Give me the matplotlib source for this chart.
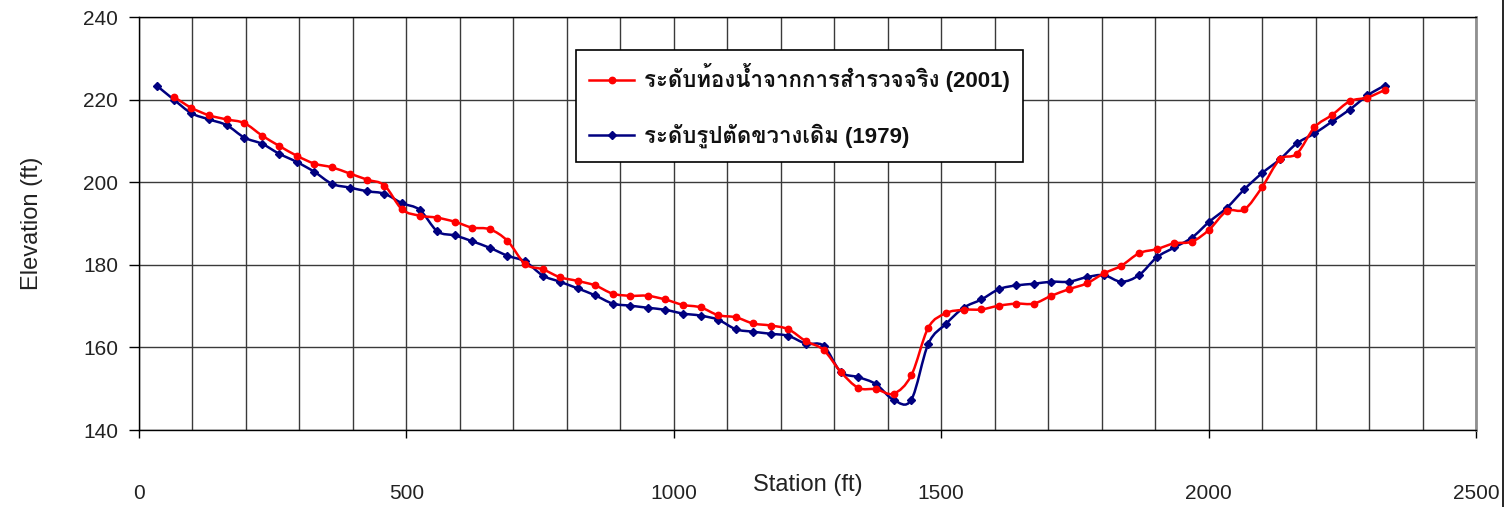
import numpy as np
import matplotlib
matplotlib.use("Agg")
import matplotlib.pyplot as plt
from matplotlib import font_manager as fm
from matplotlib.ft2font import FT2Font
from matplotlib.path import Path
from matplotlib.patches import PathPatch
from matplotlib.lines import Line2D

# ---------------- data ----------------
station_1979 = [33, 66, 98, 131, 164, 197, 230, 262, 295, 328, 361, 394, 427, 459,
                492, 525, 558, 591, 623, 656, 689, 722, 755, 787, 820, 853, 886, 919,
                951, 984, 1017, 1050, 1083, 1116, 1148, 1181, 1214, 1247, 1280, 1312,
                1345, 1378, 1411, 1444, 1476, 1509, 1542, 1575, 1608, 1640, 1673, 1706,
                1739, 1772, 1804, 1837, 1870, 1903, 1936, 1969, 2001, 2034, 2067, 2100,
                2133, 2165, 2198, 2231, 2264, 2297, 2329]
elev_1979 = [223.4, 219.9, 216.7, 215.2, 213.8, 210.8, 209.3, 206.9, 204.9, 202.5,
             199.6, 198.7, 197.8, 197.2, 194.9, 193.3, 188.1, 187.1, 185.7, 184.1,
             182.2, 180.8, 177.4, 175.9, 174.3, 172.6, 170.6, 170.1, 169.6, 169.1,
             168.2, 167.7, 166.7, 164.4, 163.8, 163.3, 162.8, 160.9, 160.4, 154.1,
             152.8, 151.1, 147.3, 147.3, 160.9, 165.7, 169.6, 171.6, 174.1, 175.0,
             175.4, 175.9, 175.9, 177.0, 177.5, 175.9, 177.5, 181.8, 184.2, 186.6,
             190.4, 193.8, 198.3, 202.2, 205.5, 209.4, 211.8, 214.7, 217.6, 221.0,
             223.4]

station_2001 = [66, 98, 131, 164, 197, 230, 262, 295, 328, 361, 394, 427, 459,
                492, 525, 558, 591, 623, 656, 689, 722, 755, 787, 820, 853, 886, 919,
                951, 984, 1017, 1050, 1083, 1116, 1148, 1181, 1214, 1247, 1280, 1312,
                1345, 1378, 1411, 1444, 1476, 1509, 1542, 1575, 1608, 1640, 1673, 1706,
                1739, 1772, 1804, 1837, 1870, 1903, 1936, 1969, 2001, 2034, 2067, 2100,
                2133, 2165, 2198, 2231, 2264, 2297, 2329]
elev_2001 = [220.6, 218.0, 216.2, 215.2, 214.3, 211.3, 208.8, 206.4, 204.5, 203.6,
             202.1, 200.6, 199.2, 193.4, 191.9, 191.4, 190.4, 189.0, 188.6, 185.8,
             180.2, 178.9, 177.0, 176.1, 175.0, 173.0, 172.5, 172.5, 171.6, 170.3,
             169.7, 167.8, 167.3, 165.8, 165.3, 164.4, 161.5, 159.4, 154.1, 150.2,
             149.9, 148.8, 153.2, 164.8, 168.3, 169.1, 169.2, 170.1, 170.6, 170.6,
             172.5, 174.1, 175.5, 177.9, 179.8, 182.8, 183.8, 185.2, 185.6, 188.5,
             193.0, 193.4, 198.8, 205.5, 206.9, 213.3, 216.3, 219.6, 220.5, 222.3]

label_2001 = "ระดับท้องน้ำจากการสำรวจจริง (2001)"
label_1979 = "ระดับรูปตัดขวางเดิม (1979)"
x_label = "Station (ft)"
y_label = "Elevation (ft)"
x_ticks = [0, 500, 1000, 1500, 2000, 2500]
y_ticks = [140, 160, 180, 200, 220, 240]

# ---------------- fonts ----------------
def thai_fonts():
    found = []
    for f in fm.fontManager.ttflist:
        try:
            ft = FT2Font(f.fname)
            if ft.get_char_index(ord('ร')) and ft.get_char_index(ord('ท')):
                if f.name not in found:
                    found.append(f.name)
        except Exception:
            pass
    for pref in ['Loma', 'Garuda']:
        if pref in found:
            found.remove(pref)
            found.insert(0, pref)
    return found

thai = thai_fonts()
families = ['Liberation Sans'] + thai[:3] + ['DejaVu Sans']
plt.rcParams['font.family'] = families

# ---------------- smooth path ----------------
def smooth_path(x, y):
    P = np.column_stack([np.asarray(x, float), np.asarray(y, float)])
    n = len(P)
    verts = [P[0]]
    codes = [Path.MOVETO]
    for i in range(n - 1):
        p0 = P[i - 1] if i > 0 else P[i]
        p1 = P[i]
        p2 = P[i + 1]
        p3 = P[i + 2] if i + 2 < n else P[i + 1]
        c1 = p1 + (p2 - p0) / 6.0
        c2 = p2 - (p3 - p1) / 6.0
        verts += [c1, c2, p2]
        codes += [Path.CURVE4] * 3
    return Path(verts, codes)

RED = '#FF0000'
NAVY = '#000080'

fig = plt.figure(figsize=(15.10, 5.07), dpi=100)
ax = fig.add_axes([139 / 1510, 1 - 430 / 507, (1476 - 139) / 1510, (430 - 17) / 507])

ax.set_xlim(0, 2500)
ax.set_ylim(140, 240)

# grid
ax.set_xticks(np.arange(0, 2501, 100), minor=True)
ax.set_xticks(x_ticks)
ax.set_yticks(y_ticks)
ax.grid(True, which='both', axis='x', color='#3a3a3a', lw=1.0)
ax.grid(True, which='major', axis='y', color='#3a3a3a', lw=1.0)
ax.set_axisbelow(True)

# series
ax.add_patch(PathPatch(smooth_path(station_1979, elev_1979), fill=False,
                       edgecolor=NAVY, lw=1.8, zorder=3))
ax.plot(station_1979, elev_1979, ls='none', marker='D', ms=3.6, color=NAVY, zorder=4)
ax.add_patch(PathPatch(smooth_path(station_2001, elev_2001), fill=False,
                       edgecolor=RED, lw=1.8, zorder=5))
ax.plot(station_2001, elev_2001, ls='none', marker='o', ms=4.6, color=RED, zorder=6)

# spines and ticks
for s in ['left', 'bottom', 'top']:
    ax.spines[s].set_color('black')
    ax.spines[s].set_linewidth(1.0)
ax.spines['right'].set_color('#909090')
ax.spines['right'].set_linewidth(2.0)
ax.tick_params(axis='y', which='major', direction='out', length=7, width=1.0,
               labelsize=15, pad=8, colors='black')
ax.tick_params(axis='x', which='major', direction='out', length=6, width=1.0,
               labelsize=15, pad=33, colors='black')
ax.tick_params(axis='x', which='minor', length=0)
ax.tick_params(axis='both', labelcolor='#222222')

ax.set_xlabel(x_label, fontsize=17, color='#222222')
ax.xaxis.set_label_coords(0.5, (430 - 485) / 413)
ax.xaxis.label.set_va('center')
ax.set_ylabel(y_label, fontsize=17, color='#222222')
ax.yaxis.set_label_coords((32 - 139) / 1337, 0.5)
ax.yaxis.label.set_va('center')

handles = [Line2D([], [], color=RED, lw=1.8, marker='o', ms=4.6),
           Line2D([], [], color=NAVY, lw=1.8, marker='D', ms=3.6)]
leg = ax.legend(handles, [label_2001, label_1979], loc='upper left',
                bbox_to_anchor=((576 - 139) / 1337, (430 - 50) / 413),
                borderaxespad=0, frameon=True, fancybox=False,
                edgecolor='black', framealpha=1, handlelength=2.0,
                labelspacing=1.42, borderpad=0.6, handletextpad=0.45,
                prop={'size': 16, 'weight': 'bold'})
leg.get_frame().set_linewidth(1.2)
for t in leg.get_texts():
    t.set_color('#111111')

# outer frame line at right edge
fig.add_artist(Line2D([1503 / 1510, 1503 / 1510], [0, 1], color='black', lw=1.2,
                      transform=fig.transFigure))

fig.savefig('out.png', dpi=100)
